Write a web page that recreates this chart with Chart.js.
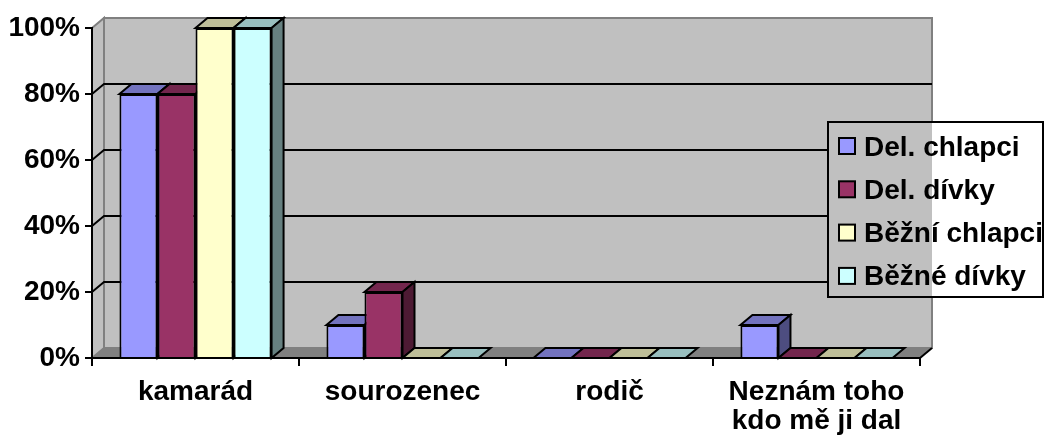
<!DOCTYPE html>
<html>
<head>
<meta charset="utf-8">
<script src="https://cdn.jsdelivr.net/npm/chart.js@4"></script>
<style>
  html, body { margin: 0; padding: 0; background: #fff; }
  #wrap { width: 1045px; height: 439px; }
</style>
</head>
<body>
<div id="wrap"><canvas id="myBarChart" width="1045" height="439"></canvas></div>
<script>
// chart data (percent)
const categories = ['kamarád', 'sourozenec', 'rodič', ['Neznám toho', 'kdo mě ji dal']];
const seriesNames = ['Del. chlapci', 'Del. dívky', 'Běžní chlapci', 'Běžné dívky'];
const delChlapci = [80, 10, 0, 10];
const delDivky = [80, 20, 0, 0];
const bezniChlapci = [100, 0, 0, 0];
const bezneDivky = [100, 0, 0, 0];
const yTicks = [0, 20, 40, 60, 80, 100];

const frontColors = ['#9999FF', '#993366', '#FFFFCC', '#CCFFFF'];
const topColors = ['#7373BF', '#73264D', '#BFBF99', '#99BFBF'];
const sideColors = ['#4D4D80', '#4D1A33', '#808066', '#668080'];

const DX = 12, DY = -10; // depth offset
const FONT = 'bold 28px "Liberation Sans", Arial, sans-serif';
const LEG = { x: 828, y: 122, w: 215, h: 175 };

const poly = (ctx, pts, fill, stroke, lw) => {
    ctx.beginPath();
    ctx.moveTo(pts[0][0], pts[0][1]);
    for (let i = 1; i < pts.length; i++) ctx.lineTo(pts[i][0], pts[i][1]);
    ctx.closePath();
    if (fill) { ctx.fillStyle = fill; ctx.fill(); }
    if (stroke) { ctx.strokeStyle = stroke; ctx.lineWidth = lw || 2; ctx.stroke(); }
};

const line = (ctx, pts, color, lw) => {
    ctx.beginPath();
    ctx.moveTo(pts[0][0], pts[0][1]);
    for (let i = 1; i < pts.length; i++) ctx.lineTo(pts[i][0], pts[i][1]);
    ctx.strokeStyle = color;
    ctx.lineWidth = lw || 2;
    ctx.stroke();
};

// walls, floor, gridlines and the 3d faces of the bars
const box3d = {
    id: 'box3d',
    beforeDatasetsDraw(chart) {
        const ctx = chart.ctx;
        const a = chart.chartArea;
        const y = chart.scales.y;
        ctx.save();
        // side wall
        poly(ctx, [[a.left, a.top], [a.left + DX, a.top + DY], [a.left + DX, a.bottom + DY], [a.left, a.bottom]], '#C0C0C0', '#808080', 2);
        // back wall
        poly(ctx, [[a.left + DX, a.top + DY], [a.right + DX, a.top + DY], [a.right + DX, a.bottom + DY], [a.left + DX, a.bottom + DY]], '#C0C0C0', '#808080', 2);
        // floor
        poly(ctx, [[a.left, a.bottom], [a.left + DX, a.bottom + DY], [a.right + DX, a.bottom + DY], [a.right, a.bottom]], '#808080', null);
        line(ctx, [[a.right, a.bottom], [a.right + DX, a.bottom + DY]], '#000', 2);
        // gridlines
        yTicks.slice(1, -1).forEach(v => {
            const py = y.getPixelForValue(v);
            line(ctx, [[a.left, py], [a.left + DX, py + DY], [a.right + DX, py + DY]], '#000', 2);
        });
        // bar tops and sides, left to right
        const metas = chart.data.datasets.map((d, i) => chart.getDatasetMeta(i));
        categories.forEach((c, j) => {
            metas.forEach((meta, i) => {
                const bar = meta.data[j];
                const l = bar.x - bar.width / 2, r = bar.x + bar.width / 2;
                const t = bar.y, b = bar.base;
                poly(ctx, [[l, t], [l + DX, t + DY], [r + DX, t + DY], [r, t]], topColors[i], '#000', 2);
                if (b - t > 0.5) {
                    poly(ctx, [[r, t], [r + DX, t + DY], [r + DX, b + DY], [r, b]], sideColors[i], '#000', 2);
                }
            });
        });
        ctx.restore();
    },
    afterDatasetsDraw(chart) {
        const ctx = chart.ctx;
        const a = chart.chartArea;
        const y = chart.scales.y;
        ctx.save();
        // y axis with ticks
        line(ctx, [[a.left, a.top - 1], [a.left, a.bottom]], '#000', 2);
        yTicks.forEach(v => {
            const py = y.getPixelForValue(v);
            line(ctx, [[a.left - 7, py], [a.left, py]], '#000', 2);
        });
        // x axis with ticks between categories
        line(ctx, [[a.left, a.bottom], [a.right, a.bottom]], '#000', 2);
        const step = (a.right - a.left) / categories.length;
        for (let k = 0; k <= categories.length; k++) {
            const px = a.left + step * k;
            line(ctx, [[px, a.bottom], [px, a.bottom + 8]], '#000', 2);
        }
        ctx.restore();
    },
    afterDraw(chart) {
        // legend box: covers the gridlines, wall colour shows where it overlaps the wall
        const ctx = chart.ctx;
        const a = chart.chartArea;
        const wallRight = a.right + DX;
        ctx.save();
        ctx.fillStyle = '#C0C0C0';
        ctx.fillRect(LEG.x, LEG.y, wallRight - LEG.x, LEG.h);
        ctx.fillStyle = '#FFFFFF';
        ctx.fillRect(wallRight, LEG.y, LEG.x + LEG.w - wallRight, LEG.h);
        ctx.strokeStyle = '#000';
        ctx.lineWidth = 2;
        ctx.strokeRect(LEG.x, LEG.y, LEG.w, LEG.h);
        ctx.font = FONT;
        ctx.textBaseline = 'alphabetic';
        seriesNames.forEach((name, i) => {
            const cy = 146 + i * 43.3;
            ctx.fillStyle = frontColors[i];
            ctx.fillRect(839, cy - 8, 16, 16);
            ctx.strokeRect(839, cy - 8, 16, 16);
            ctx.fillStyle = '#000';
            ctx.fillText(name, 864, cy + 9.5);
        });
        ctx.restore();
    }
};

const tickFont = { family: '"Liberation Sans", Arial, sans-serif', size: 28, weight: 'bold', lineHeight: 1.04 };

new Chart(document.getElementById('myBarChart'), {
    type: 'bar',
    data: {
        labels: categories,
        datasets: [delChlapci, delDivky, bezniChlapci, bezneDivky].map((vals, i) => ({
            label: seriesNames[i],
            data: vals,
            backgroundColor: frontColors[i],
            borderColor: '#000',
            borderWidth: 2,
            barPercentage: 1,
            categoryPercentage: 0.735,
        })),
    },
    options: {
        responsive: false,
        animation: false,
        events: [],
        layout: { padding: { left: 0, top: 28, right: 125, bottom: 0 } },
        plugins: {
            legend: { display: false },
            tooltip: { enabled: false },
        },
        scales: {
            x: {
                grid: { display: false },
                border: { display: false },
                ticks: { color: '#000', font: tickFont, padding: 12, maxRotation: 0, autoSkip: false },
                afterFit: (s) => { s.height = 81; },
            },
            y: {
                min: 0,
                max: 100,
                grid: { display: false },
                border: { display: false },
                ticks: { color: '#000', font: tickFont, stepSize: 20, padding: 4, callback: (v) => v + '%' },
                afterFit: (s) => { s.width = 92; },
            },
        },
    },
    plugins: [box3d],
});
</script>
</body>
</html>
